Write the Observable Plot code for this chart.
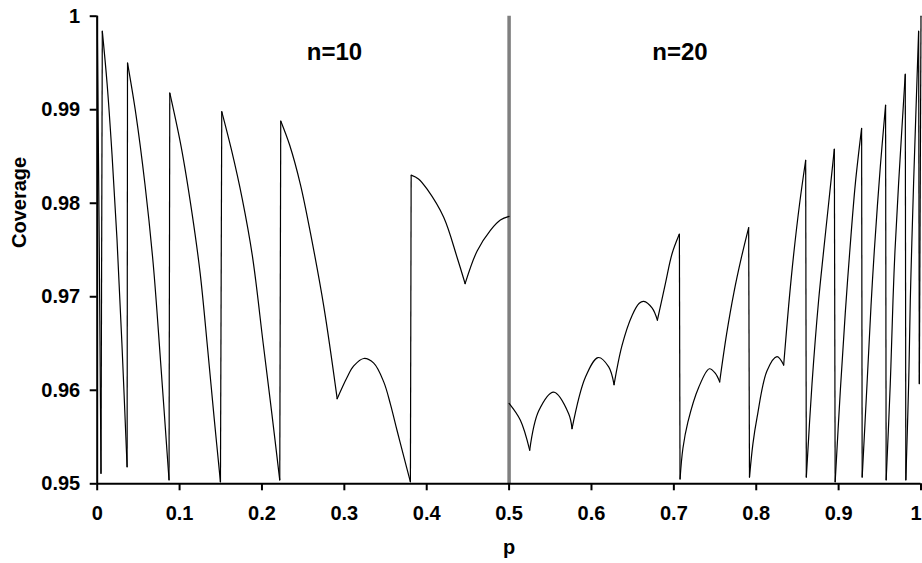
<!DOCTYPE html>
<html><head><meta charset="utf-8">
<script src="https://cdn.jsdelivr.net/npm/d3@7"></script>
<script src="https://cdn.jsdelivr.net/npm/@observablehq/plot@0.6"></script>
<style>body{margin:0;background:#fff}</style>
</head><body><div id="chart"></div>
<script>
// n = 10, p from 0 to 0.5
const n10P = [0, 0.0025, 0.0046, 0.0062, 0.012, 0.018, 0.024, 0.030, 0.0363,
  0.0368, 0.047, 0.058, 0.068, 0.077, 0.0872,
  0.0881, 0.102, 0.115, 0.125, 0.134, 0.142, 0.1496,
  0.1512, 0.163, 0.176, 0.1885, 0.2015, 0.212, 0.2216,
  0.2228, 0.2337, 0.2467, 0.2589, 0.275, 0.2913, 0.3034, 0.3114, 0.3236, 0.3357, 0.3478, 0.356, 0.364, 0.3725, 0.3802,
  0.3811, 0.390, 0.4005, 0.4206, 0.4369, 0.4466, 0.4612, 0.4773, 0.4894, 0.5];
const n10C = [1.0, 0.9753, 0.9511, 0.9984, 0.9928, 0.9852, 0.9762, 0.9650, 0.9518,
  0.9950, 0.9895, 0.9820, 0.9735, 0.9630, 0.9504,
  0.9918, 0.9860, 0.9790, 0.9725, 0.9645, 0.9570, 0.9502,
  0.9898, 0.9857, 0.9805, 0.9743, 0.9650, 0.9575, 0.9504,
  0.9888, 0.9862, 0.9820, 0.9768, 0.9690, 0.9591, 0.9614, 0.9626, 0.9634, 0.9629, 0.9609, 0.9585, 0.9557, 0.9528, 0.9502,
  0.9830, 0.9826, 0.9815, 0.9785, 0.9742, 0.9714, 0.9749, 0.9771, 0.9782, 0.9786];
// n = 20, p from 0.5 to 1
const n20P = [0.5, 0.5137, 0.525, 0.536, 0.5541, 0.5723, 0.5764, 0.5926, 0.608, 0.6209, 0.6274,
  0.6371, 0.6493, 0.658, 0.6634, 0.6735, 0.680, 0.6897, 0.6978, 0.7067,
  0.7075, 0.711, 0.717, 0.7301, 0.7431, 0.7504, 0.7556, 0.764, 0.773, 0.782, 0.7908,
  0.7918, 0.796, 0.801, 0.8131, 0.8252, 0.8333, 0.8393, 0.8454, 0.8527, 0.8600,
  0.8608, 0.8677, 0.8757, 0.8818, 0.8879, 0.8948,
  0.8958, 0.9021, 0.9081, 0.9134, 0.9203, 0.9279,
  0.9286, 0.9345, 0.9393, 0.9433, 0.9506, 0.9570,
  0.9577, 0.9627, 0.9660, 0.9684, 0.9728, 0.9809,
  0.9816, 0.9850, 0.9870, 0.9886, 0.9910, 0.9971,
  0.9980, 1.0];
const n20C = [0.9586, 0.9568, 0.9536, 0.9578, 0.9598, 0.9575, 0.9559, 0.9614, 0.9635, 0.9625, 0.9606,
  0.9648, 0.9680, 0.9693, 0.9695, 0.9688, 0.9675, 0.9714, 0.9746, 0.9767,
  0.9505, 0.9538, 0.9566, 0.9603, 0.9623, 0.9618, 0.9609, 0.9660, 0.9705, 0.9742, 0.9774,
  0.9507, 0.9543, 0.9571, 0.9621, 0.9636, 0.9627, 0.9690, 0.9745, 0.9800, 0.9846,
  0.9507, 0.9607, 0.9696, 0.9749, 0.9800, 0.9858,
  0.9502, 0.9600, 0.9683, 0.9747, 0.9821, 0.9880,
  0.9507, 0.9607, 0.9690, 0.9749, 0.9839, 0.9905,
  0.9504, 0.9607, 0.9696, 0.9749, 0.9821, 0.9938,
  0.9504, 0.9607, 0.9696, 0.9749, 0.9821, 0.9984,
  0.9607, 1.0];

const panelLabels = ["n=10", "n=20"];
const panelLabelP = [0.288, 0.7075];
const panelLabelC = [0.9953, 0.9953];

const xTicks = [0, 0.1, 0.2, 0.3, 0.4, 0.5, 0.6, 0.7, 0.8, 0.9, 1];
const yTicks = [0.95, 0.96, 0.97, 0.98, 0.99, 1];
const divider = [0.5];

// Split each series into smooth pieces: break at near-vertical jumps (drawn as straight links)
// and at cusps (local minima shared by two pieces).
const pieces = [];
const jumps = [];
let pid = 0;
function isJump(P, C, i) {
  const dc = C[i] - C[i - 1];
  return Math.abs(dc) > 0.025 && Math.abs(dc / (P[i] - P[i - 1])) > 15;
}
function addSeries(P, C) {
  pid++;
  for (let i = 0; i < P.length; i++) {
    if (i > 0) {
      if (isJump(P, C, i)) {
        jumps.push({p1: P[i - 1], c1: C[i - 1], p2: P[i], c2: C[i]});
        pid++;
      } else if (i > 1 && !isJump(P, C, i - 1) && C[i - 1] < C[i - 2] && C[i - 1] < C[i]) {
        pid++;
        pieces.push({p: P[i - 1], c: C[i - 1], id: pid});
      }
    }
    pieces.push({p: P[i], c: C[i], id: pid});
  }
}
addSeries(n10P, n10C);
addSeries(n20P, n20C);

const labels = panelLabels.map((t, i) => ({t, p: panelLabelP[i], c: panelLabelC[i]}));
const lastTick = xTicks.slice(-1);

const chart = Plot.plot({
  width: 922,
  height: 563,
  marginLeft: 96.7,
  marginRight: 1.5,
  marginTop: 15.7,
  marginBottom: 79.7,
  x: {domain: [0, 1]},
  y: {domain: [0.95, 1]},
  style: {fontFamily: "'Liberation Sans', Arial, sans-serif", fontWeight: "bold", color: "black", background: "white"},
  marks: [
    Plot.ruleX(divider, {stroke: "#7f7f7f", strokeWidth: 3.5}),
    Plot.line(pieces, {x: "p", y: "c", z: "id", stroke: "black", strokeWidth: 1.2, curve: "catmull-rom"}),
    Plot.link(jumps, {x1: "p1", y1: "c1", x2: "p2", y2: "c2", stroke: "black", strokeWidth: 1.2}),
    Plot.ruleX([0], {stroke: "black", strokeWidth: 2}),
    Plot.ruleY([0.95], {stroke: "black", strokeWidth: 2}),
    Plot.axisX(xTicks, {tickSize: 7, tickPadding: 15, strokeWidth: 2, tickFormat: d => d === 1 ? "" : String(d), fontSize: 20, fontWeight: "bold", label: null}),
    Plot.text(lastTick, {x: d => d, text: d => String(d), frameAnchor: "bottom", dy: 22, dx: -5, lineAnchor: "top", fontSize: 20, fontWeight: "bold"}),
    Plot.axisY(yTicks, {tickSize: 7, tickPadding: 10, strokeWidth: 2, tickFormat: d => String(d), fontSize: 20, fontWeight: "bold", label: null}),
    Plot.text(labels, {x: "p", y: "c", text: "t", fontSize: 24, fontWeight: "bold", lineAnchor: "bottom", textAnchor: "middle"}),
    Plot.text(["p"], {frameAnchor: "bottom", dy: 70.5, text: d => d, fontSize: 20, fontWeight: "bold", lineAnchor: "bottom"}),
    Plot.text(["Coverage"], {frameAnchor: "left", dx: -78, dy: -2, rotate: -90, text: d => d, fontSize: 20, fontWeight: "bold", lineAnchor: "middle"})
  ]
});
document.getElementById("chart").appendChild(chart);
</script></body></html>
